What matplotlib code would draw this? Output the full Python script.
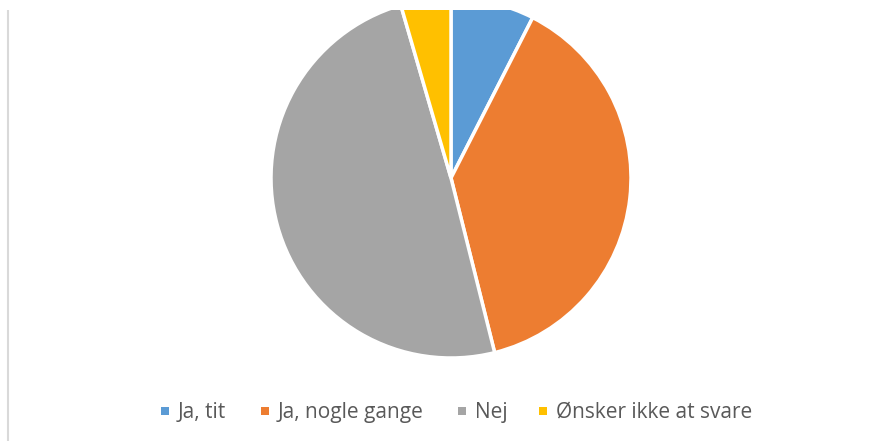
import matplotlib
matplotlib.use("Agg")
import matplotlib.pyplot as plt
from matplotlib.patches import Rectangle

categories = ["Ja, tit", "Ja, nogle gange", "Nej", "Ønsker ikke at svare"]
values = [7.5, 38.6, 49.4, 4.5]
colors = ["#5B9BD5", "#ED7D31", "#A5A5A5", "#FFC000"]

W, H = 882, 443
TOP = 9.5  # plot area starts this many pixels below the figure top
fig = plt.figure(figsize=(W / 100, H / 100), dpi=100)
ax = fig.add_axes([0, 0, 1, (H - TOP) / H])

wedges, _ = ax.pie(values, colors=colors, startangle=90, counterclock=False,
                   center=(451, H - 178), radius=180,
                   wedgeprops=dict(edgecolor="white", linewidth=2.5))
for w in wedges:
    w.set_clip_on(True)
    w.set_clip_path(ax.patch)
ax.set_xlim(0, W)
ax.set_ylim(0, H - TOP)
ax.set_aspect("auto")
ax.axis("off")

# thin left border line
ax.plot([7.5, 7.5], [H - 441, H - 10], color="#D9D9D9", linewidth=1.5,
        solid_capstyle="butt", clip_on=False)

# legend
sq_left = [161, 261, 458, 539]
for x0, lab, col in zip(sq_left, categories, colors):
    ax.add_patch(Rectangle((x0, H - 414.5), 8, 8, facecolor=col, edgecolor="none"))
    ax.text(x0 + 17, H - 418, lab, fontsize=15, family="Open Sans",
            color="#595959", va="baseline", ha="left")

fig.savefig("out.png", dpi=100)
